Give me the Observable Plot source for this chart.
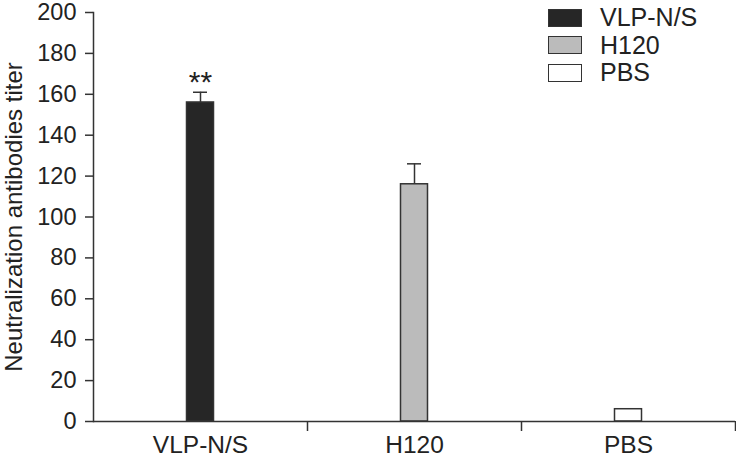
<!DOCTYPE html>
<html>
<head>
<meta charset="utf-8">
<script src="https://cdn.jsdelivr.net/npm/d3@7"></script>
<script src="https://cdn.jsdelivr.net/npm/@observablehq/plot@0.6"></script>
<style>
  html, body { margin: 0; padding: 0; background: #fff; }
  #wrap { position: relative; width: 736px; height: 457px; font-family: "Liberation Sans", Arial, sans-serif; }
  #legend { position: absolute; left: 548px; top: 4px; color: #222; font-size: 25px; }
  .row { display: flex; align-items: center; height: 27.5px; }
  .sw { width: 32px; height: 16px; border: 1.5px solid #333; margin-right: 18px; box-sizing: content-box; }
</style>
</head>
<body>
<div id="wrap"></div>
<script>
const groups = ["VLP-N/S", "H120", "PBS"];
const titers = [156, 116, 6];
const errors = [5, 10, 0];
const stars = ["**", "", ""];
const fills = ["#262626", "#bbbbbb", "#ffffff"];
const yTicks = [0, 20, 40, 60, 80, 100, 120, 140, 160, 180, 200];

const data = groups.map((g, i) => ({group: g, titer: titers[i], err: errors[i], star: stars[i]}));
const errData = data.filter(d => d.err > 0);
const starData = data.filter(d => d.star);

const ink = "#222";
const W = 736, H = 457;
const mL = 93, mR = 1, mT = 12, mB = 36;
const band = (W - mL - mR) / groups.length;

const chart = Plot.plot({
  width: W,
  height: H,
  marginLeft: mL,
  marginRight: mR,
  marginTop: mT,
  marginBottom: mB,
  style: {fontFamily: "'Liberation Sans', Arial, sans-serif", color: ink, background: "#fff", overflow: "visible"},
  x: {domain: groups, padding: 0, label: null},
  y: {domain: [0, 200], label: null},
  color: {domain: groups, range: fills},
  marks: [
    Plot.barY(data, {x: "group", y: "titer", fill: "group", stroke: "#333", strokeWidth: 1.5,
      insetLeft: (band - 27) / 2, insetRight: (band - 27) / 2}),
    Plot.ruleX(errData, {x: "group", y1: "titer", y2: d => d.titer + d.err, stroke: "#333", strokeWidth: 1.5}),
    Plot.tickY(errData, {x: "group", y: d => d.titer + d.err, stroke: "#333", strokeWidth: 1.5,
      insetLeft: (band - 14) / 2, insetRight: (band - 14) / 2}),
    Plot.text(starData, {x: "group", y: d => d.titer + d.err, text: "star", dy: -10, fontSize: 30, fill: ink}),
    Plot.axisY({ticks: yTicks, tickSize: 8, fontSize: 23.5, tickPadding: 9, stroke: "#333", strokeWidth: 1.5, label: null}),
    Plot.axisY({anchor: "left", ticks: [], label: "Neutralization antibodies titer", labelAnchor: "center",
      labelArrow: "none", fontSize: 24, labelOffset: 89}),
    Plot.axisX({tickSize: 0, fontSize: 24.5, tickPadding: 14, label: null}),
    Plot.axisX({tickSize: 10, tickFormat: () => "", dx: band / 2, stroke: "#333", strokeWidth: 1.5, label: null}),
    Plot.ruleY([0], {stroke: "#333", strokeWidth: 1.5}),
    Plot.frame({anchor: "left", stroke: "#333", strokeWidth: 1.5})
  ]
});

const wrap = document.getElementById("wrap");
wrap.appendChild(chart);

const legend = document.createElement("div");
legend.id = "legend";
groups.forEach((g, i) => {
  const row = document.createElement("div");
  row.className = "row";
  const sw = document.createElement("div");
  sw.className = "sw";
  sw.style.background = fills[i];
  const lab = document.createElement("span");
  lab.textContent = g;
  row.appendChild(sw);
  row.appendChild(lab);
  legend.appendChild(row);
});
wrap.appendChild(legend);
</script>
</body>
</html>
